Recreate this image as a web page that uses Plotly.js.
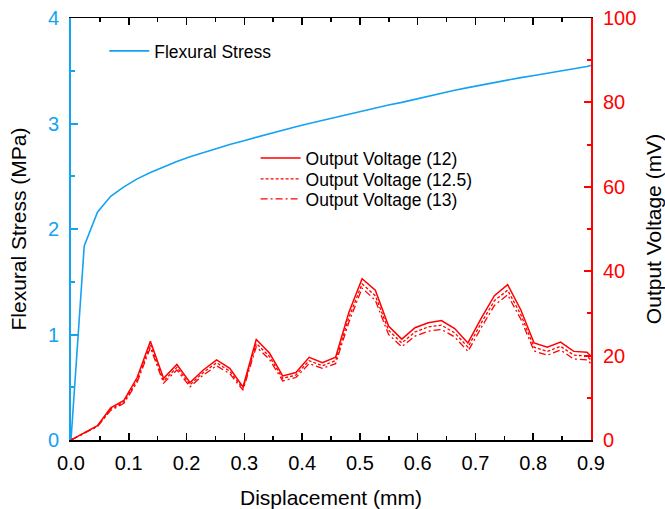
<!DOCTYPE html>
<html>
<head>
<meta charset="utf-8">
<script src="https://cdn.plot.ly/plotly-3.0.1.min.js"></script>
<style>html,body{margin:0;padding:0;background:#fff;}#chart{width:665px;height:509px;}</style>
</head>
<body>
<div id="chart"></div>
<script>
var displacement = [0, 0.0229, 0.0458, 0.0687, 0.0916, 0.1145, 0.1374, 0.1603, 0.1832, 0.2061, 0.229, 0.2519, 0.2748, 0.2977, 0.3206, 0.3435, 0.3664, 0.3893, 0.4122, 0.4351, 0.458, 0.4809, 0.5038, 0.5267, 0.5496, 0.5725, 0.5954, 0.6183, 0.6412, 0.6641, 0.687, 0.7099, 0.7328, 0.7557, 0.7786, 0.8015, 0.8244, 0.8473, 0.8702, 0.8931, 0.916];
var flexuralStress = [0, 1.84, 2.16, 2.31, 2.40, 2.475, 2.535, 2.59, 2.64, 2.685, 2.725, 2.765, 2.80, 2.835, 2.87, 2.905, 2.94, 2.97, 3.00, 3.03, 3.06, 3.09, 3.12, 3.15, 3.175, 3.20, 3.23, 3.26, 3.29, 3.315, 3.34, 3.365, 3.39, 3.41, 3.435, 3.455, 3.475, 3.495, 3.515, 3.54, 3.575];
var voltage12 = [0, 1.8, 3.4, 7.6, 9.4, 14.8, 23.4, 14.6, 17.9, 13.6, 16.6, 19.0, 17.0, 12.6, 23.8, 20.6, 15.2, 16.0, 19.6, 18.3, 19.6, 30.2, 38.2, 35.5, 27.0, 23.9, 26.6, 27.8, 28.3, 26.4, 23.0, 28.8, 34.2, 36.8, 30.8, 23.0, 22.0, 23.2, 21.0, 20.8, 17.5];
var voltage125 = [0, 1.7, 3.3, 7.3, 9.0, 14.2, 22.6, 14.0, 17.2, 13.1, 16.0, 18.3, 16.3, 12.2, 22.9, 19.8, 14.6, 15.4, 18.8, 17.6, 18.8, 29.0, 37.0, 34.2, 26.0, 23.0, 25.6, 26.8, 27.2, 25.4, 22.0, 27.7, 33.0, 35.5, 29.7, 22.0, 21.0, 22.2, 20.1, 19.9, 16.7];
var voltage13 = [0, 1.6, 3.2, 7.0, 8.7, 13.7, 21.9, 13.5, 16.6, 12.6, 15.4, 17.6, 15.7, 11.8, 22.1, 19.1, 14.0, 14.8, 18.1, 17.0, 18.1, 27.9, 36.0, 33.1, 25.0, 22.1, 24.6, 25.8, 26.2, 24.4, 21.0, 26.6, 31.9, 34.4, 28.6, 21.1, 20.1, 21.3, 19.2, 19.0, 16.0];
var seriesNames = ['Flexural Stress', 'Output Voltage (12)', 'Output Voltage (12.5)', 'Output Voltage (13)'];

var BLUE = '#14a2f2';
var RED = '#ff0000';
var FONT = 'Arial, "Liberation Sans", sans-serif';

var traces = [
  {x: displacement, y: flexuralStress, name: seriesNames[0], mode: 'lines', yaxis: 'y', legend: 'legend',
   line: {color: BLUE, width: 1.6}},
  {x: displacement, y: voltage12, name: seriesNames[1], mode: 'lines', yaxis: 'y2', legend: 'legend2',
   line: {color: RED, width: 1.5}},
  {x: displacement, y: voltage125, name: seriesNames[2], mode: 'lines', yaxis: 'y2', legend: 'legend3',
   line: {color: RED, width: 1.3, dash: '3px,2px'}},
  {x: displacement, y: voltage13, name: seriesNames[3], mode: 'lines', yaxis: 'y2', legend: 'legend4',
   line: {color: RED, width: 1.3, dash: '7px,3px,2px,3px'}}
];

function leg(x, y) {
  return {x: x, y: y, xanchor: 'left', yanchor: 'middle', bgcolor: 'rgba(0,0,0,0)',
          font: {family: FONT, size: 17.5, color: '#000'}, itemwidth: 40};
}

var layout = {
  width: 665, height: 509,
  margin: {l: 71, r: 74, t: 18, b: 69, pad: 0},
  paper_bgcolor: '#fff', plot_bgcolor: '#fff',
  font: {family: FONT, size: 17, color: '#000'},
  showlegend: true,
  legend: leg(0.064, 0.9218),
  legend2: leg(0.355, 0.6682),
  legend3: leg(0.355, 0.6185),
  legend4: leg(0.355, 0.5711),
  xaxis: {
    range: [0, 0.9], dtick: 0.1, tick0: 0, tickformat: '.1f',
    ticks: 'inside', ticklen: 7, tickwidth: 1.5, tickcolor: '#000',
    minor: {dtick: 0.05, ticks: 'inside', ticklen: 4, tickwidth: 1.5, tickcolor: '#000', showgrid: false},
    showline: true, linecolor: '#000', linewidth: 1.5, mirror: 'ticks',
    showgrid: false, zeroline: false,
    ticklabelstandoff: 4,
    tickfont: {family: FONT, size: 20, color: '#000'},
    title: {text: 'Displacement (mm)', font: {family: FONT, size: 21, color: '#000'}, standoff: 18}
  },
  yaxis: {
    range: [0, 4], dtick: 1, tick0: 0,
    ticks: 'inside', ticklen: 7, tickwidth: 2, tickcolor: BLUE,
    minor: {dtick: 0.5, ticks: 'inside', ticklen: 4, tickwidth: 2, tickcolor: BLUE, showgrid: false},
    showline: true, linecolor: BLUE, linewidth: 2,
    showgrid: false, zeroline: false,
    ticklabelstandoff: 6,
    tickfont: {family: FONT, size: 20, color: BLUE},
    title: {text: 'Flexural Stress (MPa)', font: {family: FONT, size: 21, color: '#000'}, standoff: 16}
  },
  yaxis2: {
    range: [0, 100], dtick: 20, tick0: 0, overlaying: 'y', side: 'right', anchor: 'x',
    ticks: 'inside', ticklen: 7, tickwidth: 2, tickcolor: RED,
    minor: {dtick: 10, ticks: 'inside', ticklen: 4, tickwidth: 2, tickcolor: RED, showgrid: false},
    showline: true, linecolor: RED, linewidth: 2,
    showgrid: false, zeroline: false,
    ticklabelstandoff: 6,
    tickfont: {family: FONT, size: 20, color: RED},
    title: {text: 'Output Voltage (mV)', font: {family: FONT, size: 21, color: '#000'}, standoff: 14}
  }
};

Plotly.newPlot('chart', traces, layout, {displayModeBar: false, staticPlot: true});
</script>
</body>
</html>
